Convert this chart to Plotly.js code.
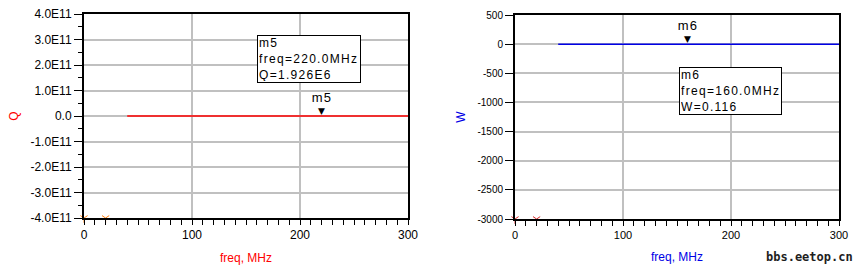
<!DOCTYPE html>
<html><head><meta charset="utf-8">
<script src="https://cdn.plot.ly/plotly-3.0.1.min.js"></script>
<style>
html,body{margin:0;padding:0;background:#fff}#c{width:858px;height:270px}
g.annotation[data-index="1"] text, g.annotation[data-index="2"] text,
g.annotation[data-index="4"] text, g.annotation[data-index="5"] text {letter-spacing:1.3px}
</style>
</head><body><div id="c"></div>
<script>
// ---- data ----
const freqQ = [40, 100, 160, 220, 300];          // MHz
const valQ  = [0, 0, 0, 1.926e6, 0];             // Q
const freqW = [40, 100, 160, 220, 300];          // MHz
const valW  = [0.116, 0.116, 0.116, 0.116, 0.116]; // W
const offFreq = [0, 20];                         // off-scale points (drawn at axis bottom)
const offQ = [-4e11, -4e11];
const offW = [-3000, -3000];
const m5 = {name: 'm5', freq: 220, val: 1.926e6, label: 'Q=1.926E6'};
const m6 = {name: 'm6', freq: 160, val: 0.116, label: 'W=0.116'};
const xTicks = [0, 100, 200, 300];
const xTickText = ['0', '100', '200', '300'];
const qTicks = [4e11, 3e11, 2e11, 1e11, 0, -1e11, -2e11, -3e11, -4e11];
const qTickText = ['4.0E11','3.0E11','2.0E11','1.0E11','0.0','-1.0E11','-2.0E11','-3.0E11','-4.0E11'];
const wTicks = [500, 0, -500, -1000, -1500, -2000, -2500, -3000];
const wTickText = ['500','0','-500','-1000','-1500','-2000','-2500','-3000'];

const W = 858, H = 270;
const FONT = 'Liberation Sans, Arial, sans-serif';
const RED = '#ff0000', BLUE = '#0000e6';

const traces = [
  {x: freqQ, y: valQ, xaxis: 'x', yaxis: 'y', mode: 'lines', line: {color: RED, width: 1.5}, hoverinfo: 'skip'},
  {x: offFreq, y: offQ, xaxis: 'x', yaxis: 'y', mode: 'markers', cliponaxis: false,
   marker: {symbol: 'y-down-open', size: 6, line: {color: RED, width: 1}}, hoverinfo: 'skip'},
  {x: freqW, y: valW, xaxis: 'x2', yaxis: 'y2', mode: 'lines', line: {color: BLUE, width: 1.5}, hoverinfo: 'skip'},
  {x: offFreq, y: offW, xaxis: 'x2', yaxis: 'y2', mode: 'markers', cliponaxis: false,
   marker: {symbol: 'y-down-open', size: 6, line: {color: BLUE, width: 1}}, hoverinfo: 'skip'}
];

function xa(dom, color, anchor) {
  return {domain: dom, range: [0, 300], anchor: anchor, tickmode: 'array', tickvals: xTicks, ticktext: xTickText,
    showgrid: true, gridcolor: '#c0c0c0', gridwidth: 2, zeroline: false,
    showline: true, linecolor: '#000', linewidth: 2, mirror: true,
    ticks: 'outside', ticklen: 5, tickwidth: 1, tickcolor: '#000',
    minor: {dtick: 10, tick0: 0, ticks: 'outside', ticklen: 5, tickcolor: '#000', showgrid: false},
    tickfont: {family: FONT, size: 12, color: '#000'},
    title: {text: 'freq, MHz', font: {family: FONT, size: 12, color: color}, standoff: 12}};
}
const layout = {
  width: W, height: H, margin: {l: 0, r: 0, t: 0, b: 0},
  paper_bgcolor: '#fff', plot_bgcolor: '#fff', showlegend: false,
  xaxis: xa([84/W, 408/W], RED, 'y'),
  xaxis2: Object.assign(xa([515/W, 839/W], BLUE, 'y2'), {tickfont: {family: FONT, size: 11, color: '#000'}}),
  yaxis: {domain: [1 - 218/H, 1 - 14/H], range: [-4e11, 4e11], anchor: 'x',
    tickmode: 'array', tickvals: qTicks, ticktext: qTickText,
    showgrid: true, gridcolor: '#c0c0c0', gridwidth: 2, zeroline: false,
    showline: true, linecolor: '#000', linewidth: 2, mirror: true,
    ticks: 'outside', ticklen: 8, tickcolor: '#000',
    minor: {dtick: 0.5e11, tick0: 0, ticks: 'outside', ticklen: 4, tickcolor: '#000', showgrid: false},
    tickfont: {family: FONT, size: 12, color: '#000'},
    title: {text: 'Q', font: {family: FONT, size: 12, color: RED}, standoff: 9}},
  yaxis2: {domain: [1 - 219/H, 1 - 15/H], range: [-3000, 500], anchor: 'x2',
    tickmode: 'array', tickvals: wTicks, ticktext: wTickText,
    showgrid: true, gridcolor: '#c0c0c0', gridwidth: 2, zeroline: false,
    showline: true, linecolor: '#000', linewidth: 2, mirror: true,
    ticks: 'outside', ticklen: 8, tickcolor: '#000',
    tickfont: {family: FONT, size: 10, color: '#000'},
    title: {text: 'W', font: {family: FONT, size: 12, color: BLUE}, standoff: 9}},
  annotations: [
    // marker m5
    {xref: 'x', yref: 'y', x: m5.freq, y: m5.val, text: '▼', showarrow: false, yanchor: 'bottom', yshift: -2,
     font: {family: 'DejaVu Sans', size: 9, color: '#000'}},
    {xref: 'x', yref: 'y', x: m5.freq, y: m5.val, text: m5.name, showarrow: false, yanchor: 'bottom', yshift: 9,
     font: {family: FONT, size: 13, color: '#000'}},
    {xref: 'x', yref: 'y', x: 160, y: 3.18e11, xanchor: 'left', yanchor: 'top', align: 'left', showarrow: false,
     text: m5.name + '<br>freq=' + m5.freq.toFixed(1) + 'MHz<br>' + m5.label,
     width: 100, height: 44,
     bordercolor: '#000', borderwidth: 1, borderpad: 1, bgcolor: '#fff',
     font: {family: FONT, size: 12, color: '#000'}},
    // marker m6
    {xref: 'x2', yref: 'y2', x: m6.freq, y: m6.val, text: '▼', showarrow: false, yanchor: 'bottom', yshift: -2,
     font: {family: 'DejaVu Sans', size: 9, color: '#000'}},
    {xref: 'x2', yref: 'y2', x: m6.freq, y: m6.val, text: m6.name, showarrow: false, yanchor: 'bottom', yshift: 9,
     font: {family: FONT, size: 13, color: '#000'}},
    {xref: 'x2', yref: 'y2', x: 152, y: -392, xanchor: 'left', yanchor: 'top', align: 'left', showarrow: false,
     text: m6.name + '<br>freq=' + m6.freq.toFixed(1) + 'MHz<br>' + m6.label,
     width: 99, height: 44,
     bordercolor: '#000', borderwidth: 1, borderpad: 1, bgcolor: '#fff',
     font: {family: FONT, size: 12, color: '#000'}},
    // watermark
    {xref: 'paper', yref: 'paper', x: 855/W, y: 1 - 257/H, xanchor: 'right', yanchor: 'middle', showarrow: false,
     text: '<b>bbs.eetop.cn</b>', font: {family: 'DejaVu Sans Mono', size: 12, color: '#1e1e1e'}}
  ]
};
Plotly.newPlot('c', traces, layout, {staticPlot: true, displayModeBar: false});
</script></body></html>
